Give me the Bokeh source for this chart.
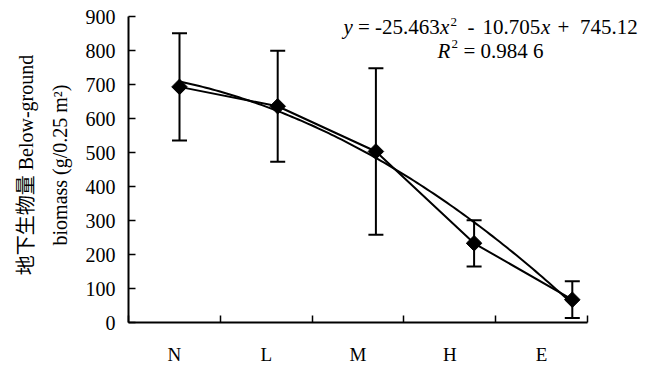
import numpy as np
from bokeh.plotting import figure
from bokeh.models import (Range1d, FixedTicker, Whisker, TeeHead,
                          ColumnDataSource, Label, LinearAxis)
from bokeh.embed import file_html
from bokeh.resources import INLINE

# ---------------- data ----------------
categories = ["N", "L", "M", "H", "E"]
biomass_mean = [693, 636, 503, 233, 67]
biomass_sd = [158, 163, 245, 68, 54]
trend_coef = [-25.463, -10.705, 745.12]      # y = a x^2 + b x + c
y_ticks = [0, 100, 200, 300, 400, 500, 600, 700, 800, 900]
eq_line1 = [("y", "italic"), ("=", "normal"), ("-25.463", "normal"),
            ("x", "italic"), ("2", "sup"), ("-", "normal"),
            ("10.705", "normal"), ("x", "italic"), ("+", "normal"),
            ("745.12", "normal")]
eq_line2 = [("R", "italic"), ("2", "sup"), ("= 0.984 6", "normal")]
y_title = ["地下生物量 Below-ground", "biomass (g/0.25 m²)"]

# ---------------- layout (pixels) ----------------
W, H = 659, 368
FL, FR, FT, FB = 128, 9, 7, 46
FW, FH = W - FL - FR, H - FT - FB
PX_Y = 0.34            # pixels per biomass unit (0..900 spans 306 px)
PX_CAT = 91.8          # pixels per category slot on the axis
PX_PTS = 98.2          # pixels between plotted points (as in the scanned figure)
PTS_OFFSET = 51        # first point sits 51 px right of the y axis
FONT = "Liberation Serif"
TITLE_FONT = "Liberation Serif, Noto Sans CJK SC"

n = len(categories)
xpos = np.arange(1, n + 1)
mean = np.array(biomass_mean, dtype=float)
sd = np.array(biomass_sd, dtype=float)

pts_start = 1 - PTS_OFFSET / PX_PTS
p = figure(width=W, height=H, output_backend="svg", toolbar_location=None,
           x_range=Range1d(0.5, 0.5 + FW / PX_CAT),
           y_range=Range1d(0, FH / PX_Y),
           min_border_left=FL, min_border_right=FR, min_border_top=FT,
           min_border_bottom=FB)
p.extra_x_ranges = {"pts": Range1d(pts_start, pts_start + FW / PX_PTS)}

p.xgrid.visible = False
p.ygrid.visible = False
p.outline_line_color = None
p.background_fill_color = "white"
p.border_fill_color = "white"

# x axis
xa = p.xaxis[0]
xa.bounds = (0.5, n + 0.5)
xa.ticker = FixedTicker(ticks=list(xpos), minor_ticks=list(np.arange(0.5, n + 1, 1.0)))
xa.major_label_overrides = {int(i): c for i, c in zip(xpos, categories)}
xa.major_tick_in = 0
xa.major_tick_out = 0
xa.minor_tick_in = 7
xa.minor_tick_out = 0
xa.minor_tick_line_width = 1.5
xa.minor_tick_line_color = "black"
xa.axis_line_width = 2
xa.axis_line_color = "black"
xa.major_label_text_font = FONT
xa.major_label_text_font_size = "19px"
xa.major_label_text_color = "black"
xa.major_label_standoff = 21

# y axis (with second title line)
ya = p.yaxis[0]
ya.bounds = (y_ticks[0], y_ticks[-1])
ya.ticker = FixedTicker(ticks=y_ticks)
ya.major_tick_in = 7
ya.major_tick_out = 0
ya.major_tick_line_width = 1.5
ya.minor_tick_line_color = None
ya.axis_line_width = 2
ya.axis_line_color = "black"
ya.major_label_text_font = FONT
ya.major_label_text_font_size = "20px"
ya.major_label_text_color = "black"
ya.major_label_standoff = 13
ya.axis_label = y_title[1]
ya.axis_label_text_font = TITLE_FONT
ya.axis_label_text_font_size = "20px"
ya.axis_label_text_font_style = "normal"
ya.axis_label_text_color = "black"
ya.axis_label_standoff = 12

# an empty outer axis carrying the first title line
ya2 = LinearAxis(ticker=FixedTicker(ticks=[]), axis_line_color=None,
                 major_tick_line_color=None, minor_tick_line_color=None,
                 major_label_text_font_size="0px", major_label_standoff=0,
                 major_tick_in=0, major_tick_out=0,
                 axis_label=y_title[0], axis_label_text_font=TITLE_FONT,
                 axis_label_text_font_size="20px",
                 axis_label_text_font_style="normal",
                 axis_label_text_color="black", axis_label_standoff=9)
p.add_layout(ya2, "left")

src = ColumnDataSource(dict(x=xpos, mean=mean, upper=mean + sd, lower=mean - sd))

# error bars
p.add_layout(Whisker(base="x", upper="upper", lower="lower", source=src,
                     x_range_name="pts", line_width=2, line_color="black",
                     upper_head=TeeHead(size=15, line_width=2, line_color="black"),
                     lower_head=TeeHead(size=15, line_width=2, line_color="black")))

# polynomial trendline (coefficients shown on the chart)
xs = np.linspace(xpos[0], xpos[-1], 120)
p.line(xs, np.polyval(trend_coef, xs), x_range_name="pts",
       line_color="black", line_width=2)

# data line and markers
p.line("x", "mean", source=src, x_range_name="pts", line_color="black", line_width=2)
p.scatter("x", "mean", source=src, x_range_name="pts", marker="square",
          size=11, angle=np.pi / 4, color="black")


# ---------- helpers converting page pixels to data coordinates ----------
def dx(px):
    return 0.5 + (px - FL) / PX_CAT


def dy(py):
    return (FT + FH - py) / PX_Y


# equation text
line1_x = [343, 357.5, 374.5, 439.5, 450, 467, 482, 540.5, 557, 579.5]
line2_x = [437, 451, 463]
for (txt, sty), px in zip(eq_line1, line1_x):
    sup = sty == "sup"
    p.add_layout(Label(x=dx(px), y=dy(21.5 if sup else 26.5), text=txt,
                       text_font=FONT, text_font_size="13px" if sup else "21px",
                       text_font_style="italic" if sty == "italic" else "normal",
                       text_color="black", text_baseline="alphabetic"))
for (txt, sty), px in zip(eq_line2, line2_x):
    sup = sty == "sup"
    p.add_layout(Label(x=dx(px), y=dy(43 if sup else 50), text=txt,
                       text_font=FONT, text_font_size="13px" if sup else "21px",
                       text_font_style="italic" if sty == "italic" else "normal",
                       text_color="black", text_baseline="alphabetic"))

open("out.html", "w").write(file_html(p, INLINE))
